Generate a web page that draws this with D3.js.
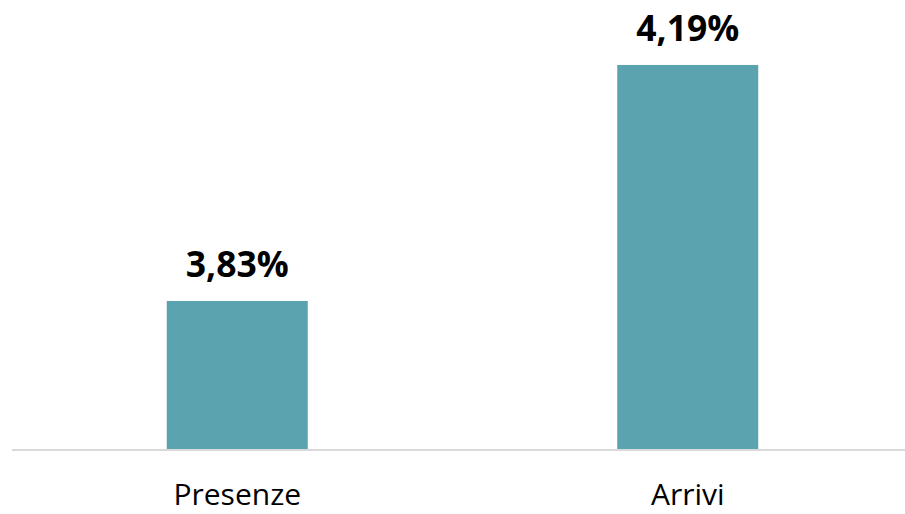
<!DOCTYPE html>
<html>
<head>
<meta charset="utf-8">
<script src="https://cdn.jsdelivr.net/npm/d3@7"></script>
<style>
  html, body { margin: 0; padding: 0; background: #ffffff; }
  svg { display: block; }
</style>
</head>
<body>
<svg id="chart" width="905" height="514"></svg>
<script>
const categories = ["Presenze", "Arrivi"];
const values = [3.83, 4.19];
const valueLabels = ["3,83%", "4,19%"];
const yDomain = [3.6, 4.2];

const svg = d3.select("#chart");
const baseY = 450;

const x = d3.scaleBand()
  .domain(categories)
  .range([12, 913])
  .paddingInner(0.687)
  .paddingOuter(0.3435);

const y = d3.scaleLinear()
  .domain(yDomain)
  .range([451.8, 58.4]);

const data = categories.map((c, i) => ({ c, v: values[i], label: valueLabels[i] }));

svg.selectAll("rect.bar")
  .data(data)
  .join("rect")
  .attr("class", "bar")
  .attr("x", d => x(d.c))
  .attr("width", x.bandwidth())
  .attr("y", d => y(d.v))
  .attr("height", d => baseY - 1 - y(d.v))
  .attr("fill", "#5ba3ae");

const xAxis = d3.axisBottom(x).tickSize(0).tickPadding(0);
const gx = svg.append("g").attr("transform", `translate(0,${baseY})`).call(xAxis);
gx.select(".domain")
  .attr("d", `M12,0H905`)
  .attr("stroke", "#d9d9d9")
  .attr("stroke-width", 2);
gx.selectAll(".tick text")
  .attr("y", 55)
  .attr("dy", null)
  .attr("font-family", "'Open Sans', sans-serif")
  .attr("font-size", 30)
  .attr("fill", "#000000");

svg.selectAll("text.vlabel")
  .data(data)
  .join("text")
  .attr("class", "vlabel")
  .attr("x", d => x(d.c) + x.bandwidth() / 2)
  .attr("y", d => y(d.v) - 24)
  .attr("text-anchor", "middle")
  .attr("font-family", "'Open Sans', sans-serif")
  .attr("font-weight", "bold")
  .attr("font-size", 35.5)
  .attr("fill", "#000000")
  .text(d => d.label);
</script>
</body>
</html>
